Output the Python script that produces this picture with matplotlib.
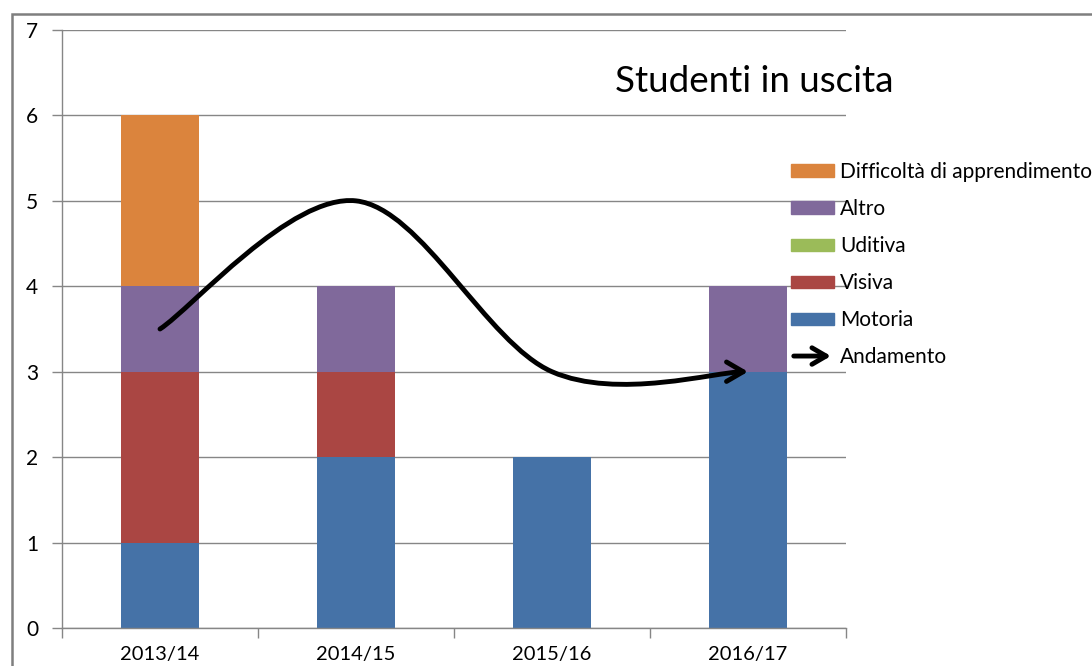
import numpy as np
import matplotlib
matplotlib.use('Agg')
import matplotlib.pyplot as plt
from matplotlib.patches import Patch, Rectangle, FancyArrowPatch
from matplotlib.path import Path
from matplotlib.legend_handler import HandlerBase

plt.rcParams['font.family'] = ['Lato', 'DejaVu Sans']

# dati
anni = ['2013/14', '2014/15', '2015/16', '2016/17']
motoria = [1, 2, 2, 3]
visiva = [2, 1, 0, 0]
uditiva = [0, 0, 0, 0]
altro = [1, 1, 0, 1]
difficolta = [2, 0, 0, 0]
andamento = [3.5, 5, 3, 3]

serie = [
    ('Motoria', motoria, '#4572A7'),
    ('Visiva', visiva, '#AA4643'),
    ('Uditiva', uditiva, '#9BBB59'),
    ('Altro', altro, '#80699B'),
    ('Difficoltà di apprendimento', difficolta, '#DB843D'),
]

fig = plt.figure(figsize=(10.92, 6.66), dpi=100)
ax = fig.add_axes([62 / 1092, 38 / 666, 784 / 1092, 598 / 666])

x = np.arange(len(anni))
base = np.zeros(len(anni))
for nome, val, col in serie:
    ax.bar(x, val, width=0.4, bottom=base, color=col, zorder=2)
    base += np.array(val)

# linea smussata (catmull-rom -> bezier) con freccia finale
pts = np.column_stack([x, andamento]).astype(float)
verts = [pts[0]]
codes = [Path.MOVETO]
for i in range(len(pts) - 1):
    p0 = pts[i - 1] if i > 0 else pts[i]
    p1 = pts[i]
    p2 = pts[i + 1]
    p3 = pts[i + 2] if i + 2 < len(pts) else pts[i + 1]
    c1 = p1 + (p2 - p0) / 6
    c2 = p2 - (p3 - p1) / 6
    verts += [c1, c2, p2]
    codes += [Path.CURVE4] * 3
stile = '->,head_length=0.6,head_width=0.35'
curva = FancyArrowPatch(path=Path(verts, codes), arrowstyle=stile,
                        mutation_scale=20, color='black', lw=3.5, zorder=4,
                        capstyle='round', joinstyle='round')
ax.add_patch(curva)

ax.set_xlim(-0.5, 3.5)
ax.set_ylim(0, 7)
ax.set_xticks(x)
ax.set_xticklabels(anni, fontsize=14.5)
ax.set_xticks(np.arange(-0.5, 4, 1), minor=True)
ax.tick_params(axis='x', which='major', length=0, pad=13)
ax.tick_params(axis='x', which='minor', length=7, color='#868686', width=1)
ax.set_yticks(range(8))
ax.tick_params(axis='y', length=7, color='#868686', width=1, pad=10, labelsize=15)
ax.grid(axis='y', color='#868686', lw=1, zorder=0)
ax.set_axisbelow(True)
for s in ['top', 'right']:
    ax.spines[s].set_visible(False)
for s in ['left', 'bottom']:
    ax.spines[s].set_color('#868686')
    ax.spines[s].set_linewidth(1)

fig.text(615 / 1092, 1 - 81 / 666, 'Studenti in uscita', fontsize=26.5, va='center', ha='left')


class FrecciaHandler(HandlerBase):
    def create_artists(self, legend, orig_handle, xdescent, ydescent, width, height, fontsize, trans):
        y = height / 2 - ydescent
        a = FancyArrowPatch((-xdescent, y), (-xdescent + width, y), arrowstyle=stile,
                            color='black', lw=3.5, mutation_scale=17, transform=trans)
        return [a]


handles = [Patch(color=c) for _, _, c in serie][::-1]
labels = [n for n, _, _ in serie][::-1]
freccia = Patch(color='black')
handles.append(freccia)
labels.append('Andamento')
fig.legend(handles, labels, loc='upper left', bbox_to_anchor=(791 / 1092, 1 - 162 / 666),
           frameon=False, fontsize=15, handlelength=2.05, handleheight=0.55, handletextpad=0.3,
           labelspacing=0.82, borderpad=0, borderaxespad=0,
           handler_map={freccia: FrecciaHandler()})

# cornice esterna
fig.patches.append(Rectangle((12 / 1092, -0.1), 1.2, 1.1 - 14 / 666, transform=fig.transFigure,
                             fill=False, edgecolor='#7f7f7f', lw=1.8))

fig.savefig('out.png', dpi=100)
